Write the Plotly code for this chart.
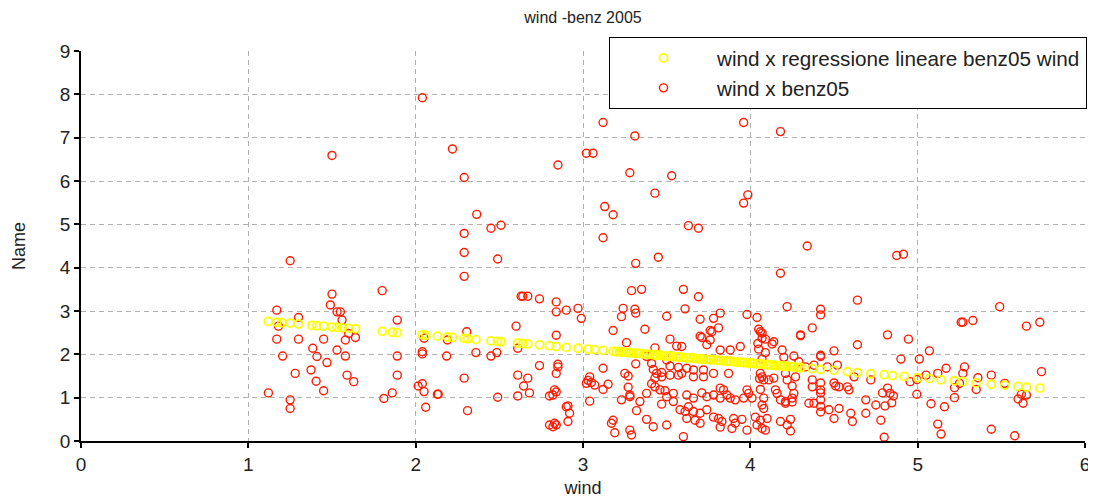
import plotly.graph_objects as go

# red points: wind x benz05
wind_a = [1.50, 1.25, 1.80, 1.50, 1.17, 1.49, 1.53, 1.55, 1.56, 1.30,
          1.18, 1.60, 1.17, 1.30, 1.45, 1.64, 1.58, 1.89, 1.385, 1.53,
          1.205, 1.41, 1.58, 1.89, 1.47, 1.375, 1.28, 1.59, 1.63, 1.89,
          1.405, 1.45, 1.12, 1.86, 1.81, 1.25, 1.25]
benz_a = [6.59, 4.16, 3.47, 3.39, 3.02, 3.14, 2.98, 2.98, 2.79, 2.85,
          2.65, 2.48, 2.35, 2.35, 2.35, 2.39, 2.33, 2.79, 2.14, 2.10,
          1.96, 1.95, 1.96, 1.96, 1.81, 1.64, 1.56, 1.52, 1.37, 1.52,
          1.38, 1.16, 1.11, 1.11, 0.98, 0.95, 0.75]

wind_b = [2.04, 2.22, 2.29, 2.365, 2.45, 2.51, 2.29, 2.29, 2.49, 2.29,
          2.63, 2.64, 2.67, 2.74, 2.60, 2.305, 2.05, 2.19, 2.61, 2.04,
          2.04, 2.185, 2.36, 2.45, 2.485, 2.74, 2.29, 2.61, 2.67, 2.645,
          2.015, 2.04, 2.05, 2.13, 2.135, 2.49, 2.61, 2.68, 2.80, 2.06,
          2.31, 2.80]
benz_b = [7.92, 6.74, 6.08, 5.23, 4.91, 4.98, 4.79, 4.35, 4.20, 3.80,
          3.34, 3.34, 3.34, 3.28, 2.65, 2.52, 2.37, 2.33, 2.14, 2.06,
          2.01, 1.96, 2.04, 1.96, 2.04, 1.74, 1.45, 1.52, 1.45, 1.27,
          1.27, 1.32, 1.14, 1.08, 1.08, 1.01, 1.04, 1.11, 1.04, 0.78,
          0.70, 0.37]

wind_c = [3.12, 3.31, 3.02, 3.06, 2.85, 3.28, 3.43, 3.13, 3.18, 3.12,
          3.315, 3.29, 3.35, 2.84, 2.84, 2.90, 2.97, 2.99, 3.24, 3.31,
          3.315, 3.23, 3.18, 3.37, 2.84, 3.26, 3.43, 2.85, 2.85, 2.84,
          3.12, 3.315, 3.04, 3.03, 3.05, 3.02, 2.83, 2.82, 2.84, 3.07,
          3.15, 3.12, 3.04, 2.91, 2.92, 2.90, 2.91, 2.83, 2.84, 2.82,
          3.18, 3.17, 3.19, 3.45]
benz_c = [7.35, 7.04, 6.64, 6.64, 6.37, 6.19, 5.72, 5.41, 5.22, 4.69,
          4.10, 3.47, 3.50, 3.21, 2.98, 3.02, 3.06, 2.83, 3.06, 3.04,
          2.95, 2.87, 2.55, 2.58, 2.44, 2.27, 2.15, 1.77, 1.71, 1.56,
          1.68, 1.78, 1.48, 1.40, 1.35, 1.33, 1.18, 1.06, 1.13, 1.29,
          1.31, 1.19, 0.92, 0.81, 0.64, 0.79, 0.45, 0.41, 0.37, 0.33,
          0.48, 0.41, 0.19, 4.24]

wind_d = [3.52, 3.56, 3.38, 3.50, 3.41, 3.42, 3.44, 3.47, 3.52, 3.57,
          3.25, 3.27, 3.43, 3.47, 3.52, 3.57, 3.41, 3.43, 3.46, 3.49,
          3.27, 3.28, 3.28, 3.38, 3.54, 3.23, 3.34, 3.54, 3.47, 3.32,
          3.38, 3.42, 3.50, 3.28, 3.29, 3.58, 3.50, 3.50, 3.53, 3.59]
benz_d = [2.35, 2.19, 1.95, 1.87, 1.79, 1.65, 1.56, 1.58, 1.73, 1.70,
          1.56, 1.50, 1.45, 1.48, 1.52, 1.52, 1.32, 1.25, 1.18, 1.16,
          1.24, 1.06, 1.02, 1.10, 1.10, 0.95, 0.91, 0.91, 0.85, 0.70,
          0.50, 0.33, 0.37, 0.25, 0.14, 0.72, 2.88, 1.02, 6.12, 2.18]

wind_e = [3.96, 4.18, 3.985, 3.96, 3.63, 3.69, 4.18, 4.22, 3.60, 3.69,
          3.61, 3.82, 3.78, 3.98, 4.04, 3.70, 3.81, 3.76, 4.05, 4.07,
          3.71, 3.74, 4.09, 4.13, 4.14, 3.94, 3.88, 4.05, 4.045, 4.19,
          3.70, 3.77, 3.76, 3.82, 4.06, 4.07, 4.30, 4.20, 4.26, 4.09,
          4.07]
benz_e = [7.35, 7.14, 5.68, 5.49, 4.97, 4.91, 3.87, 3.10, 3.50, 3.33,
          3.05, 2.95, 2.83, 2.92, 2.85, 2.81, 2.61, 2.55, 2.58, 2.49,
          2.39, 2.22, 2.35, 2.24, 2.29, 2.18, 2.10, 2.12, 2.25, 2.10,
          2.42, 2.52, 2.33, 2.10, 2.52, 2.37, 2.45, 1.93, 1.96, 2.04,
          1.89]

wind_f = [3.62, 3.66, 3.72, 3.78, 3.87, 3.59, 3.66, 3.72, 3.62, 3.66,
          3.71, 3.74, 3.78, 3.82, 3.84, 3.86, 3.88, 3.91, 3.82, 3.63,
          3.66, 3.70, 3.74, 3.62, 3.67, 3.70, 3.61, 3.81, 3.83, 3.90,
          3.91, 3.89, 3.82, 3.60, 3.78, 4.06, 4.07, 4.08, 4.055, 4.14,
          4.11, 4.21, 4.22, 4.27, 3.98, 3.99, 4.01, 3.96, 4.06, 4.15,
          4.16, 4.26, 4.25, 4.18, 4.21, 4.08, 4.07, 4.08, 3.95, 4.03,
          4.06, 4.10, 4.04, 4.07, 4.09, 4.18, 4.24, 4.22, 4.24, 3.98]
benz_f = [1.68, 1.64, 1.64, 1.56, 1.56, 1.56, 1.48, 1.48, 1.06, 0.99,
          1.11, 1.02, 1.06, 1.22, 1.18, 1.06, 0.99, 0.95, 0.99, 0.79,
          0.68, 0.64, 0.72, 0.52, 0.48, 0.41, 0.68, 0.52, 0.45, 0.52,
          0.41, 0.29, 0.32, 0.10, 0.55, 1.56, 1.48, 1.41, 1.44, 1.45,
          1.41, 1.56, 1.41, 1.48, 1.18, 1.10, 0.99, 0.99, 1.19, 1.18,
          1.10, 1.10, 0.99, 0.95, 0.91, 0.99, 0.83, 0.75, 0.50, 0.55,
          0.48, 0.52, 0.37, 0.29, 0.25, 0.45, 0.50, 0.37, 0.23, 0.25]

wind_g = [4.34, 4.875, 4.915, 4.42, 4.42, 4.64, 4.37, 4.30, 4.82, 4.945,
          4.64, 4.50, 4.42, 4.42, 4.90, 4.29, 4.33, 4.38, 4.46, 4.52,
          4.72, 4.25, 4.37, 4.37, 4.42, 4.42, 4.42, 4.50, 4.51, 4.53,
          4.58, 4.59, 4.62, 4.79, 4.82, 4.835, 4.855, 4.845, 4.805, 4.25,
          4.21, 4.35, 4.38, 4.42, 4.42, 4.42, 4.47, 4.53, 4.69, 4.69,
          4.75, 4.50, 4.60, 4.61, 4.78, 4.80]
benz_g = [4.50, 4.28, 4.31, 3.04, 2.91, 3.25, 2.61, 2.43, 2.45, 2.35,
          2.22, 2.08, 1.98, 1.95, 1.89, 1.83, 1.71, 1.75, 1.71, 1.75,
          1.41, 1.27, 1.41, 1.25, 1.34, 1.18, 1.11, 1.34, 1.27, 1.25,
          1.25, 1.18, 1.48, 1.11, 1.22, 1.10, 1.04, 0.88, 0.81, 0.90,
          0.87, 0.87, 0.87, 0.95, 0.80, 0.67, 0.72, 0.75, 0.95, 0.64,
          0.83, 0.52, 0.64, 0.45, 0.48, 0.085]

wind_h = [5.49, 5.26, 5.27, 5.33, 5.65, 5.73, 5.07, 5.01, 5.17, 5.12,
          5.28, 5.27, 5.25, 5.36, 5.44, 5.74, 5.05, 4.955, 4.995, 5.52,
          5.22, 5.22, 5.35, 4.995, 5.60, 5.63, 5.65, 5.62, 5.08, 5.16,
          5.12, 5.14, 5.44, 5.58]
benz_h = [3.10, 2.74, 2.74, 2.78, 2.65, 2.74, 2.08, 1.89, 1.68, 1.56,
          1.71, 1.56, 1.33, 1.46, 1.52, 1.60, 1.52, 1.37, 1.42, 1.33,
          1.23, 1.00, 1.19, 1.08, 0.97, 0.87, 1.06, 1.08, 0.86, 0.79,
          0.39, 0.16, 0.27, 0.12]

# yellow points: fitted values of the linear regression
reg_wind = [1.12, 1.17, 1.20, 1.25, 1.30, 1.38, 1.41, 1.45, 1.50, 1.53,
            1.56, 1.60, 1.64, 1.80, 1.86, 1.89, 2.04, 2.06, 2.13, 2.19,
            2.22, 2.29, 2.31, 2.36, 2.45, 2.49, 2.51, 2.61, 2.64, 2.67,
            2.74, 2.80, 2.84, 2.90, 2.97, 3.03, 3.07, 3.12, 3.18, 3.23,
            3.28, 3.33, 3.38, 3.43, 3.47, 3.52, 3.57, 3.62, 3.66, 3.71,
            3.76, 3.81, 3.86, 3.91, 3.96, 4.01, 4.06, 4.10, 4.15, 4.20,
            4.25, 4.30, 4.37, 4.42, 4.50, 4.58, 4.64, 4.72, 4.80, 4.85,
            4.92, 5.00, 5.07, 5.14, 5.22, 5.27, 5.35, 5.44, 5.52, 5.60,
            5.65, 5.73]
reg_benz = [2.76, 2.74, 2.73, 2.72, 2.70, 2.67, 2.66, 2.65, 2.63, 2.62,
            2.61, 2.60, 2.59, 2.53, 2.51, 2.50, 2.45, 2.44, 2.42, 2.40,
            2.39, 2.37, 2.36, 2.34, 2.31, 2.30, 2.29, 2.26, 2.25, 2.24,
            2.22, 2.20, 2.18, 2.16, 2.14, 2.12, 2.11, 2.09, 2.07, 2.05,
            2.04, 2.02, 2.00, 1.99, 1.97, 1.96, 1.94, 1.92, 1.91, 1.89,
            1.88, 1.86, 1.84, 1.83, 1.81, 1.79, 1.78, 1.76, 1.74, 1.73,
            1.71, 1.69, 1.67, 1.65, 1.63, 1.60, 1.58, 1.55, 1.53, 1.51,
            1.49, 1.46, 1.44, 1.41, 1.39, 1.37, 1.34, 1.31, 1.29, 1.26,
            1.24, 1.22]

# the dense, almost solid stretch of the yellow band (wind 3.2 .. 4.3)
reg_wind_dense = [3.20, 3.22, 3.24, 3.26, 3.28, 3.30, 3.32, 3.34, 3.36, 3.38,
                  3.40, 3.42, 3.44, 3.46, 3.48, 3.50, 3.52, 3.54, 3.56, 3.58,
                  3.60, 3.62, 3.64, 3.66, 3.68, 3.70, 3.72, 3.74, 3.76, 3.78,
                  3.80, 3.82, 3.84, 3.86, 3.88, 3.90, 3.92, 3.94, 3.96, 3.98,
                  4.00, 4.02, 4.04, 4.06, 4.08, 4.10, 4.12, 4.14, 4.16, 4.18,
                  4.20, 4.22, 4.24, 4.26, 4.28, 4.30]
reg_benz_dense = [2.06, 2.06, 2.05, 2.04, 2.04, 2.03, 2.02, 2.02, 2.01, 2.00,
                  2.00, 1.99, 1.98, 1.98, 1.97, 1.96, 1.96, 1.95, 1.94, 1.94,
                  1.93, 1.92, 1.92, 1.91, 1.90, 1.90, 1.89, 1.88, 1.88, 1.87,
                  1.86, 1.86, 1.85, 1.84, 1.84, 1.83, 1.82, 1.82, 1.81, 1.80,
                  1.80, 1.79, 1.78, 1.78, 1.77, 1.76, 1.76, 1.75, 1.74, 1.74,
                  1.73, 1.72, 1.72, 1.71, 1.70, 1.70]

wind = wind_a + wind_b + wind_c + wind_d + wind_e + wind_f + wind_g + wind_h
benz05 = benz_a + benz_b + benz_c + benz_d + benz_e + benz_f + benz_g + benz_h
reg_x = reg_wind + reg_wind_dense
reg_y = reg_benz + reg_benz_dense

FONT = "Liberation Sans, Arial, sans-serif"

fig = go.Figure()
fig.add_trace(go.Scatter(
    x=wind, y=benz05, mode="markers", name="wind x benz05",
    marker=dict(symbol="circle-open", size=8, color="#ff1a00",
                line=dict(width=1.4, color="#ff1a00")),
))
fig.add_trace(go.Scatter(
    x=reg_x, y=reg_y, mode="markers",
    name="wind x regressione lineare benz05 wind",
    marker=dict(symbol="circle-open", size=8, color="#ffff00",
                line=dict(width=1.8, color="#ffff00")),
))

axis_common = dict(
    showgrid=True, gridcolor="#b0b0b0", griddash="5px,4px", gridwidth=1,
    showline=True, linecolor="black", linewidth=1.5,
    ticks="outside", ticklen=5, tickcolor="black", tickwidth=1.5,
    zeroline=False, dtick=1, automargin=False,
    tickfont=dict(family=FONT, size=19, color="#222"),
)

# the page body adds an 8px offset, so the figure is 8px smaller than the window
fig.update_layout(
    width=1088, height=493,
    margin=dict(l=73, r=11, t=43, b=60, autoexpand=False),
    paper_bgcolor="white", plot_bgcolor="white",
    font=dict(family=FONT, color="#222"),
    title=dict(text="wind -benz 2005", x=0.5285, xanchor="center",
               y=0.98, yanchor="middle", font=dict(size=16, color="#222")),
    xaxis=dict(range=[0, 6], title=dict(text="wind", font=dict(size=18), standoff=8),
               **axis_common),
    yaxis=dict(range=[0, 9], title=dict(text="Name", font=dict(size=18), standoff=30),
               **axis_common),
    legend=dict(x=1.002, xanchor="right", y=1.036, yanchor="top",
                bgcolor="white", bordercolor="black", borderwidth=1,
                traceorder="reversed", font=dict(size=20.7, color="#222"),
                itemwidth=97),
    showlegend=True,
)

fig.write_html("out.html")
